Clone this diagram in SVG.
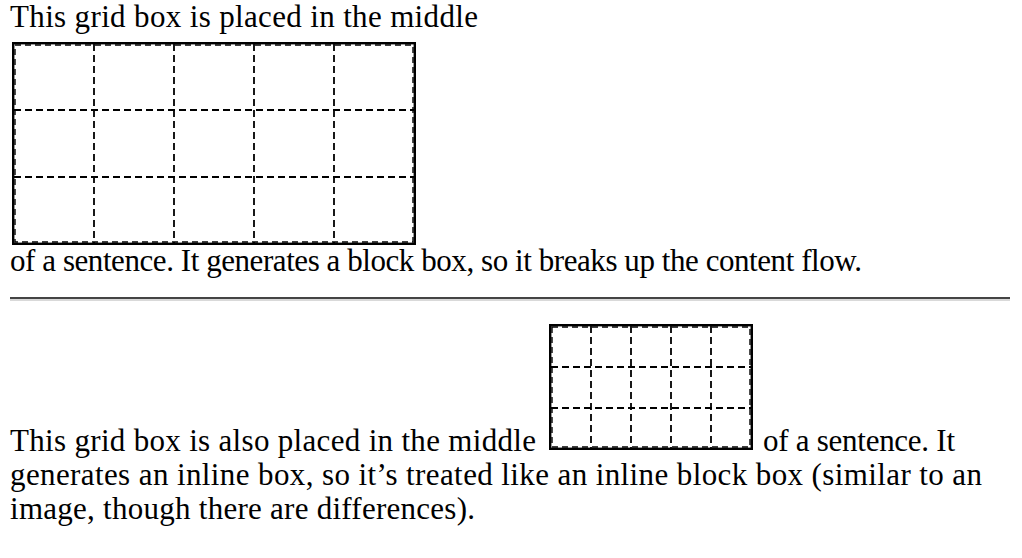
<svg xmlns="http://www.w3.org/2000/svg" width="1022" height="558" viewBox="0 0 1022 558">
<style>
text{font-family:"Liberation Serif","Times New Roman",serif;font-size:31px;fill:#000}
.outer{fill:none;stroke:#000;stroke-width:2.4}
.edge{fill:none;stroke:#000;stroke-width:1.4;stroke-dasharray:6 4}
.inner{fill:none;stroke:#000;stroke-width:1.8;stroke-dasharray:7 4}
</style>
<rect width="1022" height="558" fill="#fff"/>
<g id="text1">
<text x="10" y="27" textLength="468" lengthAdjust="spacing">This grid box is placed in the middle</text>
<text x="10" y="271" textLength="852" lengthAdjust="spacing">of a sentence. It generates a block box, so it breaks up the content flow.</text>
</g>
<g id="grid1">
<rect class="outer" x="13.2" y="43.2" width="401.6" height="200.6"/>
<rect class="edge" x="15" y="45" width="398" height="197"/>
<path class="inner" d="M94 44V243M174 44V243M254 44V243M334 44V243M14 110H414M14 177H414"/>
</g>
<g id="rule">
<line x1="10" y1="298" x2="1010" y2="298" stroke="#444" stroke-width="2"/>
<line x1="10" y1="300" x2="1010" y2="300" stroke="#ccc" stroke-width="1.5"/>
</g>
<g id="grid2">
<rect class="outer" x="550.2" y="325.2" width="201.6" height="123.6"/>
<rect class="edge" x="552" y="327" width="198" height="120"/>
<path class="inner" d="M591 326V448M631 326V448M671 326V448M711 326V448M551 367H751M551 408H751"/>
</g>
<g id="text2">
<text x="10" y="451" textLength="526" lengthAdjust="spacing">This grid box is also placed in the middle</text>
<text x="763" y="451" textLength="192" lengthAdjust="spacing">of a sentence. It</text>
<text x="10" y="485" textLength="972" lengthAdjust="spacing">generates an inline box, so it’s treated like an inline block box (similar to an</text>
<text x="10" y="519" textLength="465" lengthAdjust="spacing">image, though there are differences).</text>
</g>
</svg>
